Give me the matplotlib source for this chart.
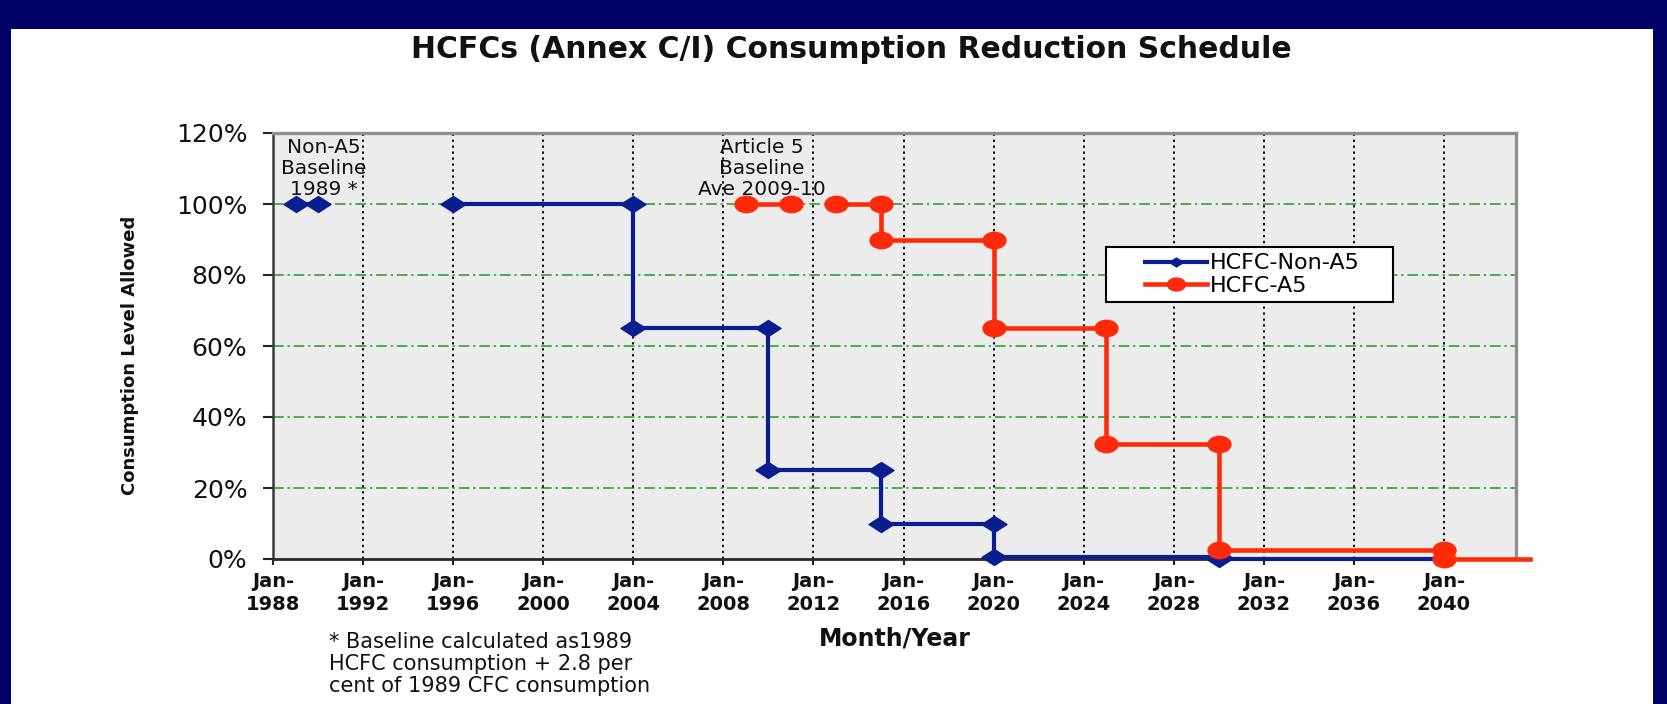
import matplotlib
matplotlib.use("Agg")
import matplotlib.pyplot as plt
import numpy as np
from matplotlib.path import Path
from matplotlib.transforms import Affine2D
from matplotlib.lines import Line2D
from matplotlib.patches import Rectangle

plt.rcParams['font.family'] = ['DejaVu Sans']

nan = np.nan
# ---- data ----
non_a5_years = [1989, 1990, nan, 1996, 2004, 2004, 2010, 2010, 2015, 2015, 2020, 2020, 2030, 2030, 2040]
non_a5_levels = [100, 100, nan, 100, 100, 65, 65, 25, 25, 10, 10, 0.5, 0.5, 0, 0]
a5_years = [2009, 2011, nan, 2013, 2015, 2015, 2020, 2020, 2025, 2025, 2030, 2030, 2040, 2040, 2043.8]
a5_levels = [100, 100, nan, 100, 100, 90, 90, 65, 65, 32.5, 32.5, 2.5, 2.5, 0, 0]
tick_years = list(range(1988, 2041, 4))
tick_labels = [f"Jan-\n{y}" for y in tick_years]
y_ticks = [0, 20, 40, 60, 80, 100, 120]
y_tick_labels = [f"{v}%" for v in y_ticks]
series_names = ["HCFC-Non-A5", "HCFC-A5"]
title = "HCFCs (Annex C/I) Consumption Reduction Schedule"
y_label = "Consumption Level Allowed"
x_label = "Month/Year"
note_non_a5 = "Non-A5\nBaseline\n1989 *"
note_a5 = "Article 5\nBaseline\nAve 2009-10"
footnote = "* Baseline calculated as1989\nHCFC consumption + 2.8 per\ncent of 1989 CFC consumption"

# ---- style ----
W, H = 1667, 704
NAVY = '#000066'
BLUE = '#0A1F8F'
RED = '#FF2A0A'

fig = plt.figure(figsize=(W / 100, H / 100), dpi=100)
fig.patch.set_facecolor('white')

# slide frame bands
for (x0, y0, w, h) in [(0, H - 29, W, 29), (0, 0, 11, H), (W - 14, 0, 14, H)]:
    fig.add_artist(Rectangle((x0 / W, y0 / H), w / W, h / H, transform=fig.transFigure,
                             facecolor=NAVY, edgecolor='none', zorder=0))

ax = fig.add_axes([273 / W, 1 - 559 / H, (1516 - 273) / W, (559 - 133) / H])
ax.set_facecolor('#ECECEC')
ax.set_xlim(1988, 2043.2)
ax.set_ylim(0, 120)

# grids
for v in y_ticks[1:-1]:
    ax.axhline(v, color='#19A019', lw=1.1, ls=(0, (7, 2.5, 1.5, 2.5)), zorder=1)
for yr in tick_years[1:]:
    ax.axvline(yr, color='black', lw=1.3, ls=(0, (1.3, 2.0)), zorder=1)

# spines
for s in ['top', 'right']:
    ax.spines[s].set_color('#8F8F8F')
    ax.spines[s].set_linewidth(2.4)
ax.spines['left'].set_color('#3A3A3A')
ax.spines['left'].set_linewidth(1.8)
ax.spines['bottom'].set_color('#2A2A2A')
ax.spines['bottom'].set_linewidth(2.0)

# markers (horizontally stretched, like the reference)
ellipse = Affine2D().scale(1.4, 1.0).transform_path(Path.unit_circle())
diamond = Path([(-1.56, 0), (0, 1), (1.56, 0), (0, -1), (-1.56, 0)], closed=True)

ax.plot(non_a5_years, non_a5_levels, color=BLUE, lw=3.0, marker=diamond, ms=18,
        mec=BLUE, mfc=BLUE, clip_on=False, zorder=3)
ax.plot(a5_years, a5_levels, color=RED, lw=3.3, marker=ellipse, ms=16.5,
        mec=RED, mfc=RED, markevery=list(range(len(a5_years) - 1)),
        clip_on=False, zorder=4)

# ticks
ax.set_xticks(tick_years)
ax.set_xticklabels(tick_labels, fontsize=14, fontweight='bold', linespacing=1.25)
ax.set_yticks(y_ticks)
ax.set_yticklabels(y_tick_labels, fontsize=18)
ax.tick_params(axis='x', direction='out', length=4, width=1.5, pad=5.5, colors='#222222')
ax.tick_params(axis='y', direction='out', length=7.5, width=1.5, pad=11, colors='#222222')
for t in ax.get_xticklabels() + ax.get_yticklabels():
    t.set_color('#111111')

# annotations
ax.text(1990.27, 110, note_non_a5, ha='center', va='center', fontsize=14.5,
        linespacing=1.15, color='#111111', zorder=5)
ax.text(2009.7, 110, note_a5, ha='center', va='center', fontsize=14.5,
        linespacing=1.15, color='#111111', zorder=5)

# legend
ax.add_patch(Rectangle((1106 / W, 1 - 302 / H), 287 / W, 55 / H, transform=fig.transFigure,
                       facecolor='white', edgecolor='black', lw=1.5, zorder=6))
handles = [Line2D([], [], color=BLUE, lw=3.0, marker=diamond, ms=10, mec=BLUE, mfc=BLUE),
           Line2D([], [], color=RED, lw=3.3, marker=ellipse, ms=13, mec=RED, mfc=RED)]
leg = ax.legend(handles, series_names, loc='center left',
                bbox_to_anchor=(1145 / W, 1 - 274.5 / H), bbox_transform=fig.transFigure,
                frameon=False, borderpad=0, borderaxespad=0, fontsize=16,
                handlelength=2.8, handletextpad=0.1, labelspacing=0.1)
leg.set_zorder(7)

# titles and labels
fig.text(851 / W, 1 - 50 / H, title, ha='center', va='center', fontsize=21.5, fontweight='bold',
         color='#111111')
fig.text(130 / W, 1 - 355 / H, y_label, ha='center', va='center', rotation=90, fontsize=13,
         fontweight='bold', color='#111111')
fig.text(895 / W, 1 - 639 / H, x_label, ha='center', va='center', fontsize=17, fontweight='bold',
         color='#111111')
fig.text(329 / W, 1 - 632 / H, footnote, ha='left', va='top', fontsize=15, linespacing=1.12,
         color='#111111')

fig.savefig('out.png', dpi=100)
